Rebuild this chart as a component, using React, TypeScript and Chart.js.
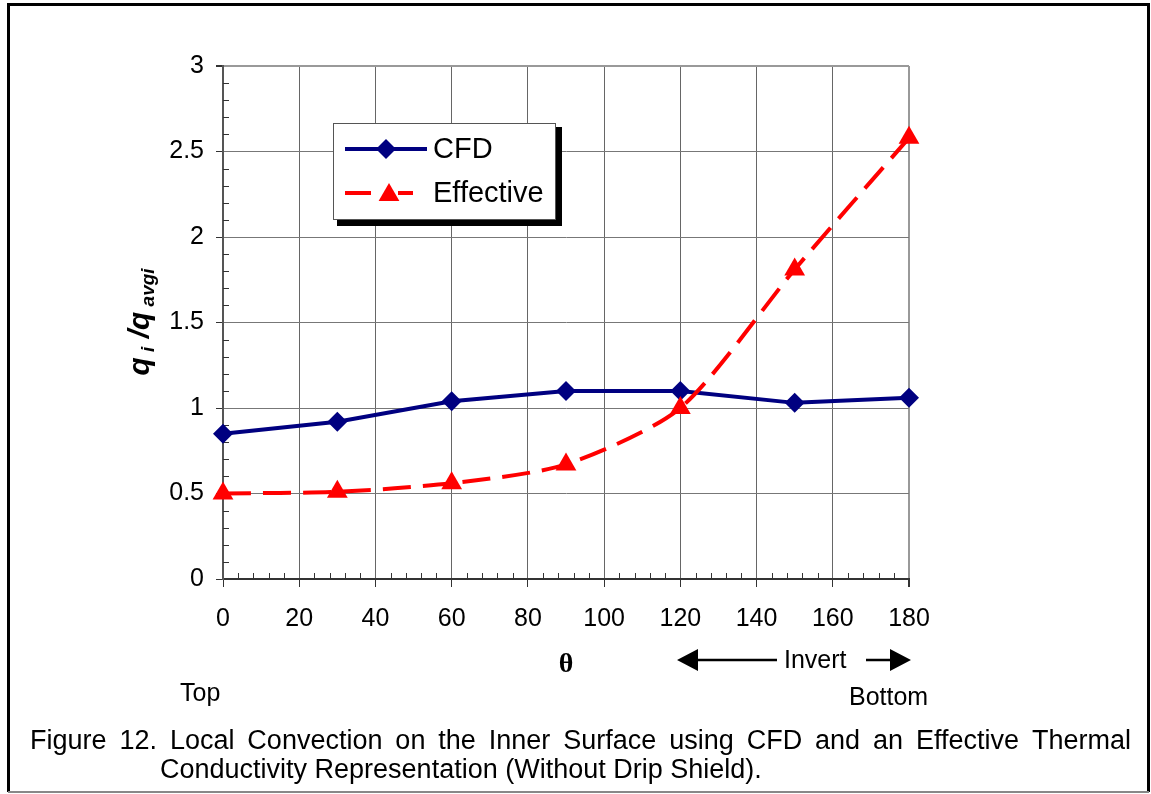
import React, { useEffect, useRef } from 'react';
import { Chart, registerables } from 'chart.js';

Chart.register(...registerables);

// ---- data ----
const thetaDeg = [0, 30, 60, 90, 120, 150, 180];
const cfdValues = [0.85, 0.92, 1.04, 1.1, 1.1, 1.03, 1.06];
const effectiveValues = [0.5, 0.51, 0.56, 0.67, 1.0, 1.81, 2.58];
const seriesNames = ['CFD', 'Effective'];
const xRange = [0, 180];
const xTickStep = 20;
const xMinorStep = 4;
const yRange = [0, 3];
const yTickStep = 0.5;
const yMinorStep = 0.1;
const captionLine1 = 'Figure 12. Local Convection on the Inner Surface using CFD and an Effective Thermal';
const captionLine2 = 'Conductivity Representation (Without Drip Shield).';

const SANS = '"Liberation Sans", Arial, Helvetica, sans-serif';
const NAVY = '#000080';
const RED = '#ff0000';

function drawDiamond(ctx: CanvasRenderingContext2D, x: number, y: number, r: number) {
  ctx.beginPath();
  ctx.moveTo(x - r, y);
  ctx.lineTo(x, y - r);
  ctx.lineTo(x + r, y);
  ctx.lineTo(x, y + r);
  ctx.closePath();
  ctx.fill();
}

function drawTriangle(ctx: CanvasRenderingContext2D, x: number, y: number, r: number) {
  ctx.beginPath();
  for (let i = 0; i < 3; i++) {
    const a = (i * 2 * Math.PI) / 3;
    const px = x + Math.sin(a) * r;
    const py = y - Math.cos(a) * r;
    if (i === 0) ctx.moveTo(px, py);
    else ctx.lineTo(px, py);
  }
  ctx.closePath();
  ctx.fill();
}

const decorPlugin = {
  id: 'decor',
  beforeDraw(chart: any) {
    const ctx = chart.ctx as CanvasRenderingContext2D;
    ctx.save();
    ctx.fillStyle = '#fff';
    ctx.fillRect(0, 0, chart.width, chart.height);
    ctx.restore();
  },
  beforeDatasetsDraw(chart: any) {
    const ctx = chart.ctx as CanvasRenderingContext2D;
    const xs = chart.scales.x;
    const ys = chart.scales.y;
    const area = chart.chartArea;
    ctx.save();
    ctx.strokeStyle = '#333';
    ctx.lineWidth = 1;
    ctx.beginPath();
    for (let v = xRange[0]; v <= xRange[1] + 1e-9; v += xMinorStep) {
      if (Math.abs(v / xTickStep - Math.round(v / xTickStep)) < 1e-6) continue;
      const px = Math.round(xs.getPixelForValue(v)) + 0.5;
      ctx.moveTo(px, area.bottom);
      ctx.lineTo(px, area.bottom - 6);
    }
    for (let i = 0; yRange[0] + i * yMinorStep <= yRange[1] + 1e-9; i++) {
      const v = yRange[0] + i * yMinorStep;
      if (Math.abs(v / yTickStep - Math.round(v / yTickStep)) < 1e-6) continue;
      const py = Math.round(ys.getPixelForValue(v)) + 0.5;
      ctx.moveTo(area.left, py);
      ctx.lineTo(area.left + 6, py);
    }
    ctx.stroke();
    ctx.restore();
  },
  afterDraw(chart: any) {
    const ctx = chart.ctx as CanvasRenderingContext2D;
    ctx.save();

    // legend
    ctx.fillStyle = '#000';
    ctx.fillRect(337, 127, 225, 99);
    ctx.fillStyle = '#fff';
    ctx.fillRect(333, 123, 222, 96);
    ctx.strokeStyle = '#555';
    ctx.lineWidth = 1;
    ctx.strokeRect(333.5, 123.5, 222, 96);

    ctx.strokeStyle = NAVY;
    ctx.lineWidth = 4;
    ctx.beginPath();
    ctx.moveTo(345, 149);
    ctx.lineTo(427, 149);
    ctx.stroke();
    ctx.fillStyle = NAVY;
    drawDiamond(ctx, 386, 149, 10);

    ctx.strokeStyle = RED;
    ctx.beginPath();
    ctx.moveTo(345, 193);
    ctx.lineTo(371, 193);
    ctx.moveTo(398, 193);
    ctx.lineTo(413, 193);
    ctx.stroke();
    ctx.fillStyle = RED;
    drawTriangle(ctx, 389, 195, 12);

    ctx.fillStyle = '#000';
    ctx.font = `29px ${SANS}`;
    ctx.textBaseline = 'middle';
    ctx.textAlign = 'left';
    ctx.fillText(seriesNames[0], 433, 150);
    ctx.fillText(seriesNames[1], 433, 194);

    // y axis title (rotated, with subscripts)
    const parts: [string, boolean][] = [
      ['q', false],
      [' i', true],
      [' /q', false],
      [' avgi', true],
    ];
    const bigFont = `italic bold 30px ${SANS}`;
    const smallFont = `italic bold 19px ${SANS}`;
    let total = 0;
    const widths = parts.map(([t, sub]) => {
      ctx.font = sub ? smallFont : bigFont;
      const w = ctx.measureText(t).width;
      total += w;
      return w;
    });
    ctx.save();
    ctx.translate(140, 322);
    ctx.rotate(-Math.PI / 2);
    ctx.textBaseline = 'alphabetic';
    let cx = -total / 2;
    parts.forEach(([t, sub], i) => {
      ctx.font = sub ? smallFont : bigFont;
      ctx.fillText(t, cx, sub ? 14 : 9);
      cx += widths[i];
    });
    ctx.restore();

    // x axis title
    ctx.font = `bold 28px "Liberation Serif", "DejaVu Serif", serif`;
    ctx.textAlign = 'center';
    ctx.textBaseline = 'middle';
    ctx.fillText('\u03b8', 566, 665);

    // Invert arrows
    ctx.strokeStyle = '#000';
    ctx.lineWidth = 2.5;
    ctx.beginPath();
    ctx.moveTo(695, 660);
    ctx.lineTo(777, 660);
    ctx.moveTo(866, 660);
    ctx.lineTo(893, 660);
    ctx.stroke();
    ctx.beginPath();
    ctx.moveTo(677, 660);
    ctx.lineTo(698, 649);
    ctx.lineTo(698, 671);
    ctx.closePath();
    ctx.moveTo(911, 660);
    ctx.lineTo(890, 649);
    ctx.lineTo(890, 671);
    ctx.closePath();
    ctx.fill();

    ctx.font = `25px ${SANS}`;
    ctx.textAlign = 'left';
    ctx.fillText('Invert', 784, 661);
    ctx.fillText('Top', 180, 694);
    ctx.fillText('Bottom', 849, 698);

    // caption, first line justified
    ctx.font = `27px ${SANS}`;
    const words = captionLine1.split(' ');
    const left = 30;
    const right = 1131;
    const ww = words.map((w) => ctx.measureText(w).width);
    const sumW = ww.reduce((a, b) => a + b, 0);
    const gap = (right - left - sumW) / (words.length - 1);
    let wx = left;
    words.forEach((w, i) => {
      ctx.fillText(w, wx, 742);
      wx += ww[i] + gap;
    });
    ctx.fillText(captionLine2, 160, 771);

    // outer frame
    ctx.strokeStyle = '#000';
    ctx.lineWidth = 3;
    ctx.beginPath();
    ctx.moveTo(8.5, 792);
    ctx.lineTo(8.5, 4.5);
    ctx.lineTo(1148.5, 4.5);
    ctx.lineTo(1148.5, 792);
    ctx.stroke();
    ctx.strokeStyle = '#888';
    ctx.lineWidth = 2;
    ctx.beginPath();
    ctx.moveTo(8, 792);
    ctx.lineTo(1149, 792);
    ctx.stroke();

    ctx.restore();
  },
};

export default function App() {
  const ref = useRef<HTMLCanvasElement | null>(null);

  useEffect(() => {
    if (!ref.current) return;
    const tickFont = { family: SANS, size: 25 };
    const chart = new Chart(ref.current, {
      type: 'line',
      data: {
        datasets: [
          {
            label: seriesNames[1],
            data: thetaDeg.map((x, i) => ({ x, y: effectiveValues[i] })),
            borderColor: RED,
            backgroundColor: RED,
            borderWidth: 4,
            borderDash: [28, 12],
            pointStyle: 'triangle',
            pointRadius: 12,
            pointBorderWidth: 0,
            pointBackgroundColor: RED,
            tension: 0.25,
            clip: false,
            order: 0,
          },
          {
            label: seriesNames[0],
            data: thetaDeg.map((x, i) => ({ x, y: cfdValues[i] })),
            borderColor: NAVY,
            backgroundColor: NAVY,
            borderWidth: 4,
            pointStyle: 'rectRot',
            pointRadius: 10,
            pointBorderWidth: 0,
            pointBackgroundColor: NAVY,
            tension: 0,
            clip: false,
            order: 1,
          },
        ],
      },
      options: {
        responsive: false,
        animation: false,
        devicePixelRatio: 1,
        layout: { padding: { left: 163, right: 242, top: 66, bottom: 135 } },
        plugins: {
          legend: { display: false },
          tooltip: { enabled: false },
          title: { display: false },
        },
        scales: {
          x: {
            type: 'linear',
            min: xRange[0],
            max: xRange[1],
            afterFit: (s: any) => {
              s.height = 80;
            },
            ticks: {
              stepSize: xTickStep,
              font: tickFont,
              color: '#000',
              padding: 17,
              maxRotation: 0,
              autoSkip: false,
            },
            grid: {
              color: (c: any) => (c.tick && c.tick.value === xRange[1] ? '#999' : '#666'),
              lineWidth: (c: any) => (c.tick && c.tick.value === xRange[1] ? 2 : 1),
              tickLength: 8,
              tickColor: '#333',
              drawTicks: true,
            },
            border: { color: '#333', width: 2 },
          },
          y: {
            type: 'linear',
            min: yRange[0],
            max: yRange[1],
            afterFit: (s: any) => {
              s.width = 60;
            },
            ticks: {
              stepSize: yTickStep,
              font: tickFont,
              color: '#000',
              padding: 12,
              callback: (v: any) => String(Math.round(Number(v) * 10) / 10),
            },
            grid: {
              color: (c: any) => (c.tick && c.tick.value === yRange[1] ? '#999' : '#777'),
              lineWidth: (c: any) => (c.tick && c.tick.value === yRange[1] ? 2 : 1),
              tickLength: 7,
              tickColor: '#333',
              drawTicks: true,
            },
            border: { color: '#555', width: 2 },
          },
        },
      },
      plugins: [decorPlugin],
    } as any);
    return () => chart.destroy();
  }, []);

  return (
    <div style={{ position: 'absolute', left: 0, top: 0, width: 1151, height: 794 }}>
      <canvas ref={ref} width={1151} height={794} style={{ display: 'block' }} />
    </div>
  );
}
